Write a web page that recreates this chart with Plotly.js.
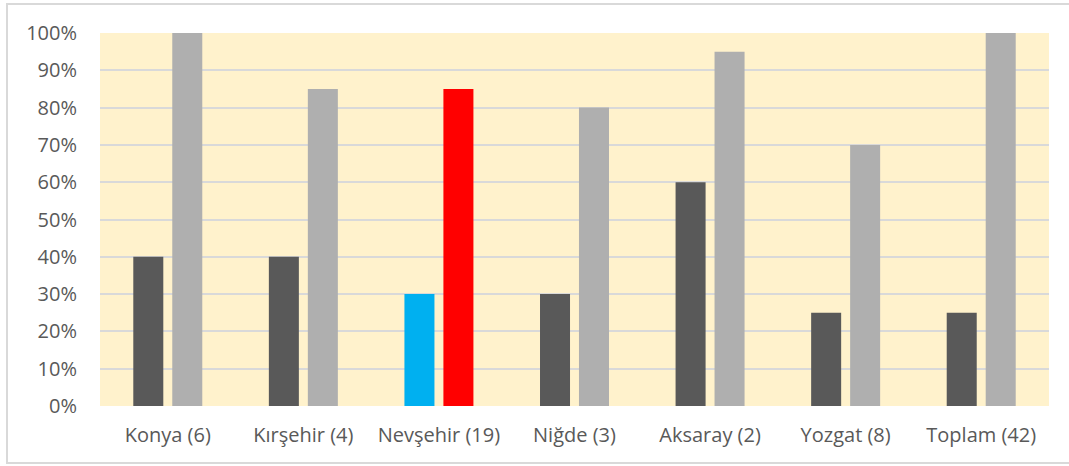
<!DOCTYPE html>
<html><head><meta charset="utf-8">
<script src="https://cdn.plot.ly/plotly-3.0.1.min.js"></script>
<style>
html,body{margin:0;padding:0;background:#fff;overflow:hidden;}
#chart{width:1069px;height:466px;}
</style></head>
<body><div id="chart"></div>
<script>
const categories = ["Konya (6)", "Kırşehir (4)", "Nevşehir (19)", "Niğde (3)", "Aksaray (2)", "Yozgat (8)", "Toplam (42)"];
const series1 = [40, 40, 30, 30, 60, 25, 25];
const series2 = [100, 85, 85, 80, 95, 70, 100];
const colors1 = ["#595959", "#595959", "#00B0F0", "#595959", "#595959", "#595959", "#595959"];
const colors2 = ["#AFAFAF", "#AFAFAF", "#FF0000", "#AFAFAF", "#AFAFAF", "#AFAFAF", "#AFAFAF"];
const yTicks = [0,10,20,30,40,50,60,70,80,90,100];
const yTickText = yTicks.map(v => v + "%");

const W = 1069, H = 466, ML = 100, MR = 20, MT = 33, MB = 60;
const pw = W - ML - MR, ph = H - MT - MB;
const traces = [
  {type:"bar", x:categories, y:series1, marker:{color:colors1}, hoverinfo:"none"},
  {type:"bar", x:categories, y:series2, marker:{color:colors2}, hoverinfo:"none"}
];
const layout = {
  width:W, height:H,
  margin:{l:ML, r:MR, t:MT, b:MB},
  paper_bgcolor:"#ffffff", plot_bgcolor:"#FFF2CC",
  barmode:"group", bargap:0.425, bargroupgap:0.23,
  showlegend:false,
  font:{family:"'Open Sans', sans-serif", size:20, color:"#595959"},
  xaxis:{showgrid:false, zeroline:false, showline:false, ticks:"", tickfont:{size:20, color:"#595959"}, ticklabelstandoff:15},
  yaxis:{range:[0,100], tickvals:yTicks, ticktext:yTickText, showgrid:true, gridcolor:"#D9D9D9", gridwidth:2,
         zeroline:false, showline:false, ticks:"", tickfont:{size:20, color:"#595959"}, ticklabelstandoff:22, fixedrange:true},
  shapes:[{type:"rect", xref:"paper", yref:"paper", layer:"above",
           x0:(7-ML)/pw, x1:(W+10-ML)/pw, y0:(H-MB-463)/ph, y1:(H-MB-4)/ph,
           line:{color:"#D9D9D9", width:2}, fillcolor:"rgba(0,0,0,0)"}]
};
Plotly.newPlot("chart", traces, layout, {staticPlot:true, displayModeBar:false});
</script></body></html>
